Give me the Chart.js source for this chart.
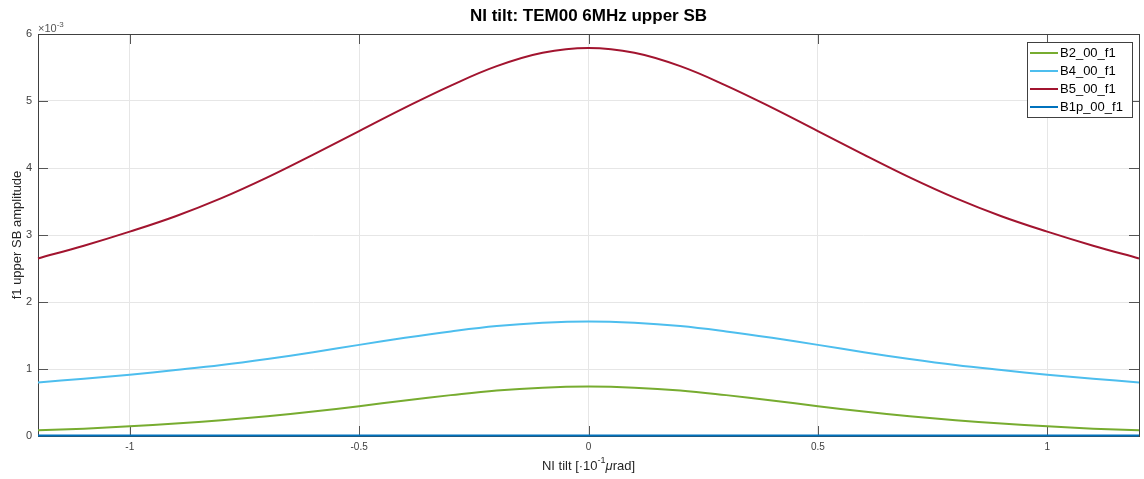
<!DOCTYPE html>
<html>
<head>
<meta charset="utf-8">
<script src="https://cdn.jsdelivr.net/npm/chart.js@4/dist/chart.umd.min.js"></script>
<style>
  html, body { margin: 0; padding: 0; background: #fff; }
  #wrap { width: 1144px; height: 479px; }
</style>
</head>
<body>
<div id="wrap"><canvas id="tilt-chart" width="1144" height="479"></canvas></div>
<script>
// NI tilt in units of 1e-1 urad, amplitudes in units of 1e-3
let tilt = [-1.2, -1.1, -1.0, -0.9, -0.8, -0.7, -0.6, -0.5, -0.4, -0.3, -0.2, -0.1, 0,
    0.1, 0.2, 0.3, 0.4, 0.5, 0.6, 0.7, 0.8, 0.9, 1.0, 1.1, 1.2];
let b2 = [0.085, 0.11, 0.145, 0.185, 0.235, 0.295, 0.365, 0.445, 0.53, 0.61, 0.68, 0.722, 0.737,
    0.722, 0.68, 0.61, 0.53, 0.445, 0.365, 0.295, 0.235, 0.185, 0.145, 0.11, 0.085];
let b4 = [0.80, 0.855, 0.915, 0.985, 1.06, 1.15, 1.25, 1.36, 1.465, 1.56, 1.64, 1.69, 1.71,
    1.69, 1.64, 1.56, 1.465, 1.36, 1.25, 1.15, 1.06, 0.985, 0.915, 0.855, 0.80];
let b5 = [2.65, 2.84, 3.05, 3.28, 3.55, 3.86, 4.20, 4.55, 4.90, 5.23, 5.52, 5.72, 5.79,
    5.72, 5.52, 5.23, 4.90, 4.55, 4.20, 3.86, 3.55, 3.28, 3.05, 2.84, 2.65];
let b1p = [0.008, 0.008, 0.008, 0.008, 0.008, 0.008, 0.008, 0.008, 0.008, 0.008, 0.008, 0.008, 0.008,
    0.008, 0.008, 0.008, 0.008, 0.008, 0.008, 0.008, 0.008, 0.008, 0.008, 0.008, 0.008];
let seriesNames = ["B2_00_f1", "B4_00_f1", "B5_00_f1", "B1p_00_f1"];
let seriesColors = ["#77AC30", "#4DBEEE", "#A2142F", "#0072BD"];
let xTicks = [-1, -0.5, 0, 0.5, 1];
let yTicks = [0, 1, 2, 3, 4, 5, 6];

const axisColor = "#404040";
const font = "'Liberation Sans', Arial, sans-serif";

function toPoints(values) {
    return tilt.map((x, i) => ({ x: x, y: values[i] }));
}

// box, inward ticks, titles, exponent label and legend in MATLAB style
const matlabLook = {
    id: "matlabLook",
    beforeDatasetsDraw(chart) {
        const ctx = chart.ctx;
        const a = chart.chartArea;
        const xs = chart.scales.x;
        const ys = chart.scales.y;
        ctx.save();
        ctx.strokeStyle = "#555";
        ctx.lineWidth = 1;
        ctx.beginPath();
        xTicks.forEach(t => {
            const px = Math.round(xs.getPixelForValue(t)) + 0.5;
            ctx.moveTo(px, a.bottom); ctx.lineTo(px, a.bottom - 10);
            ctx.moveTo(px, a.top); ctx.lineTo(px, a.top + 10);
        });
        yTicks.forEach(t => {
            const py = Math.round(ys.getPixelForValue(t)) + 0.5;
            ctx.moveTo(a.left, py); ctx.lineTo(a.left + 10, py);
            ctx.moveTo(a.right, py); ctx.lineTo(a.right - 10, py);
        });
        ctx.stroke();
        ctx.strokeStyle = axisColor;
        ctx.strokeRect(Math.round(a.left) + 0.5, Math.round(a.top) + 0.5,
            Math.round(a.right - a.left), Math.round(a.bottom - a.top));
        ctx.restore();
    },
    afterDraw(chart) {
        const ctx = chart.ctx;
        const a = chart.chartArea;
        const cx = (a.left + a.right) / 2;
        ctx.save();
        ctx.fillStyle = "#000";
        ctx.textAlign = "center";
        ctx.textBaseline = "middle";
        ctx.font = "bold 17px " + font;
        ctx.fillText("NI tilt: TEM00 6MHz upper SB", cx, 16);

        ctx.fillStyle = "#262626";
        // x title with superscript
        const parts = [["NI tilt [·10", "13px", 0], ["-1", "9px", -5], ["μ", "italic 13px", 0], ["rad]", "13px", 0]];
        let total = 0;
        parts.forEach(p => { ctx.font = p[1] + " " + font; total += ctx.measureText(p[0]).width; });
        let x = cx - total / 2;
        ctx.textAlign = "left";
        parts.forEach(p => {
            ctx.font = p[1] + " " + font;
            ctx.fillText(p[0], x, 466 + p[2]);
            x += ctx.measureText(p[0]).width;
        });

        ctx.save();
        ctx.translate(17, (a.top + a.bottom) / 2);
        ctx.rotate(-Math.PI / 2);
        ctx.textAlign = "center";
        ctx.font = "13px " + font;
        ctx.fillText("f1 upper SB amplitude", 0, 0);
        ctx.restore();

        // exponent label
        ctx.fillStyle = "#555";
        ctx.textAlign = "left";
        ctx.font = "11px " + font;
        ctx.fillText("×10", a.left, 29);
        const w = ctx.measureText("×10").width;
        ctx.font = "8px " + font;
        ctx.fillText("-3", a.left + w, 25);

        // legend
        const lx = 1027, ly = 42, lw = 105, lh = 75;
        ctx.fillStyle = "#fff";
        ctx.fillRect(lx, ly, lw, lh);
        ctx.strokeStyle = axisColor;
        ctx.lineWidth = 1;
        ctx.strokeRect(lx + 0.5, ly + 0.5, lw, lh);
        ctx.font = "13px " + font;
        ctx.textBaseline = "middle";
        chart.data.datasets.forEach((ds, i) => {
            const ry = ly + 11 + i * 18;
            ctx.strokeStyle = ds.borderColor;
            ctx.lineWidth = 2;
            ctx.beginPath();
            ctx.moveTo(lx + 3, ry);
            ctx.lineTo(lx + 31, ry);
            ctx.stroke();
            ctx.fillStyle = "#000";
            ctx.fillText(ds.label, lx + 33, ry);
        });
        ctx.restore();
    }
};

const datasets = [b2, b4, b5, b1p].map((values, i) => ({
    label: seriesNames[i],
    data: toPoints(values),
    borderColor: seriesColors[i],
    backgroundColor: seriesColors[i],
    borderWidth: 2,
    pointRadius: 0,
    tension: 0.4,
    clip: 4,
    order: 4 - i
}));

new Chart(document.getElementById("tilt-chart").getContext("2d"), {
    type: "line",
    data: { datasets: datasets },
    options: {
        responsive: false,
        animation: false,
        layout: { padding: { top: 34, right: 5, left: 0, bottom: 0 } },
        plugins: {
            legend: { display: false },
            title: { display: false },
            tooltip: { enabled: false }
        },
        scales: {
            x: {
                type: "linear",
                min: -1.2,
                max: 1.2,
                afterBuildTicks: s => { s.ticks = xTicks.map(v => ({ value: v })); },
                afterFit: s => { s.height = 43; },
                ticks: {
                    color: "#404040",
                    font: { family: font, size: 10 },
                    padding: 5,
                    maxRotation: 0,
                    callback: v => String(v)
                },
                grid: { color: "#e6e6e6", drawTicks: false },
                border: { display: false }
            },
            y: {
                min: 0,
                max: 6,
                afterBuildTicks: s => { s.ticks = yTicks.map(v => ({ value: v })); },
                afterFit: s => { s.width = 38; },
                ticks: {
                    color: "#404040",
                    font: { family: font, size: 11 },
                    padding: 6
                },
                grid: { color: "#e6e6e6", drawTicks: false },
                border: { display: false }
            }
        }
    },
    plugins: [matlabLook]
});
</script>
</body>
</html>
